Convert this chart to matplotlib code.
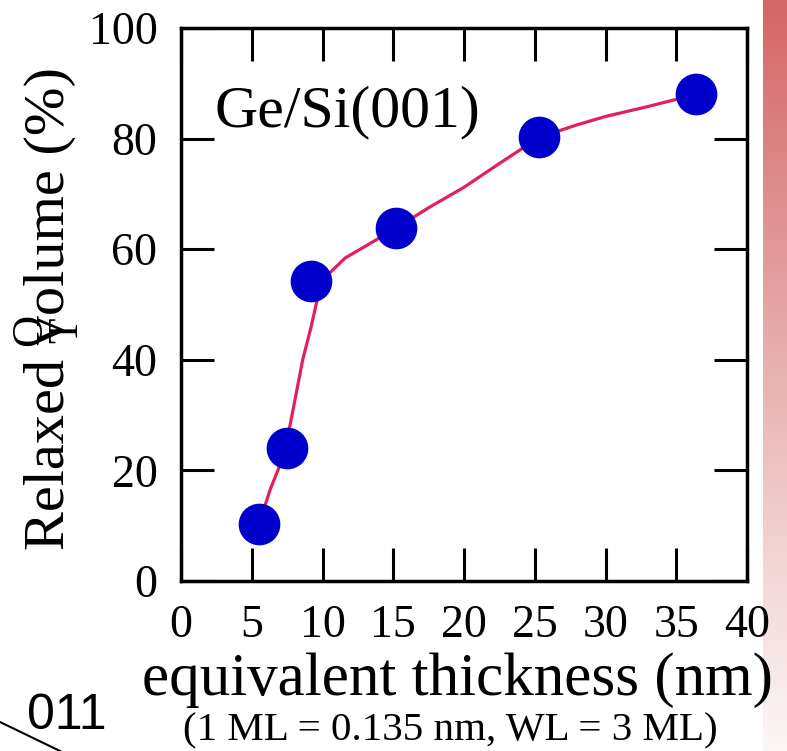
import numpy as np
import matplotlib
matplotlib.use("Agg")
import matplotlib.pyplot as plt
from matplotlib.colors import LinearSegmentedColormap

plt.rcParams['font.family'] = ['Liberation Serif', 'DejaVu Serif']

# Measured relaxed volume vs. equivalent Ge thickness
thickness_nm = [5.5, 7.5, 9.2, 15.2, 25.3, 36.4]
relaxed_pct = [10.3, 24.1, 54.2, 63.8, 80.2, 88.0]

# Guide curve drawn through the measurements
curve_x = [5.6, 6.3, 7.0, 7.5, 8.0, 8.6, 9.2, 9.6, 10.5, 11.6, 13.0, 15.2, 17.5, 20.0, 22.5, 25.3, 28.0, 30.0, 33.0, 36.4]
curve_y = [11.0, 16.5, 21.0, 25.5, 32.0, 40.0, 46.0, 50.6, 55.7, 58.4, 60.5, 63.8, 67.5, 71.2, 75.5, 80.2, 82.5, 84.0, 85.8, 88.0]

x_ticks = [0, 5, 10, 15, 20, 25, 30, 35, 40]
y_ticks = [0, 20, 40, 60, 80, 100]

fig = plt.figure(figsize=(7.87, 7.51), dpi=100)

# Reddish fading strip along the right edge
strip = fig.add_axes([763 / 787, 0, 24 / 787, 1])
grad = np.linspace(0, 1, 256).reshape(-1, 1)
cmap = LinearSegmentedColormap.from_list("fade", [(0.83, 0.40, 0.40), (0.91, 0.70, 0.70), (0.99, 0.97, 0.97)])
strip.imshow(grad, aspect="auto", cmap=cmap, extent=[0, 1, 0, 1], origin="upper")
strip.set_axis_off()

ax = fig.add_axes([181 / 787, 1 - 581 / 751, 566 / 787, 553 / 751])
ax.plot(curve_x, curve_y, color="#e2205c", lw=2.3, zorder=2)
ax.plot(thickness_nm, relaxed_pct, "o", color="#0000cc", ms=29, mec="#0000cc", zorder=3)

ax.set_xlim(0, 40)
ax.set_ylim(0, 100)
ax.set_xticks(x_ticks)
ax.set_yticks(y_ticks)
ax.tick_params(direction="in", length=24, width=2.2, top=True, right=True,
               labelsize=33, pad=17)
for s in ax.spines.values():
    s.set_linewidth(2.5)

ax.text(2.4, 82.3, "Ge/Si(001)", fontsize=43, ha="left", va="baseline")

fig.text(50 / 787, 1 - 309 / 751, "Relaxed volume (%)", rotation=90, fontsize=42,
         ha="center", va="center")
fig.text(457 / 787, 1 - 680 / 751, "equivalent thickness (nm)", fontsize=44,
         ha="center", va="center")
fig.text(450 / 787, 1 - 731 / 751, "(1 ML = 0.135 nm, WL = 3 ML)", fontsize=29.5,
         ha="center", va="center")

# Fragments of neighbouring slide content
fig.text(30 / 787, 1 - 330 / 751, "O", rotation=90, fontsize=32, ha="center", va="center")
fig.text(67 / 787, 1 - 330 / 751, "T", rotation=90, fontsize=30, ha="center", va="center")
fig.text(67 / 787, 1 - 716 / 751, "011", fontsize=36, ha="center", va="center",
         family=["Liberation Sans", "DejaVu Sans"])
fig.add_artist(plt.Line2D([0, 60 / 787], [1 - 722 / 751, 1 - 751 / 751],
                          color="black", lw=1.5, transform=fig.transFigure))

fig.savefig("out.png", dpi=100)
